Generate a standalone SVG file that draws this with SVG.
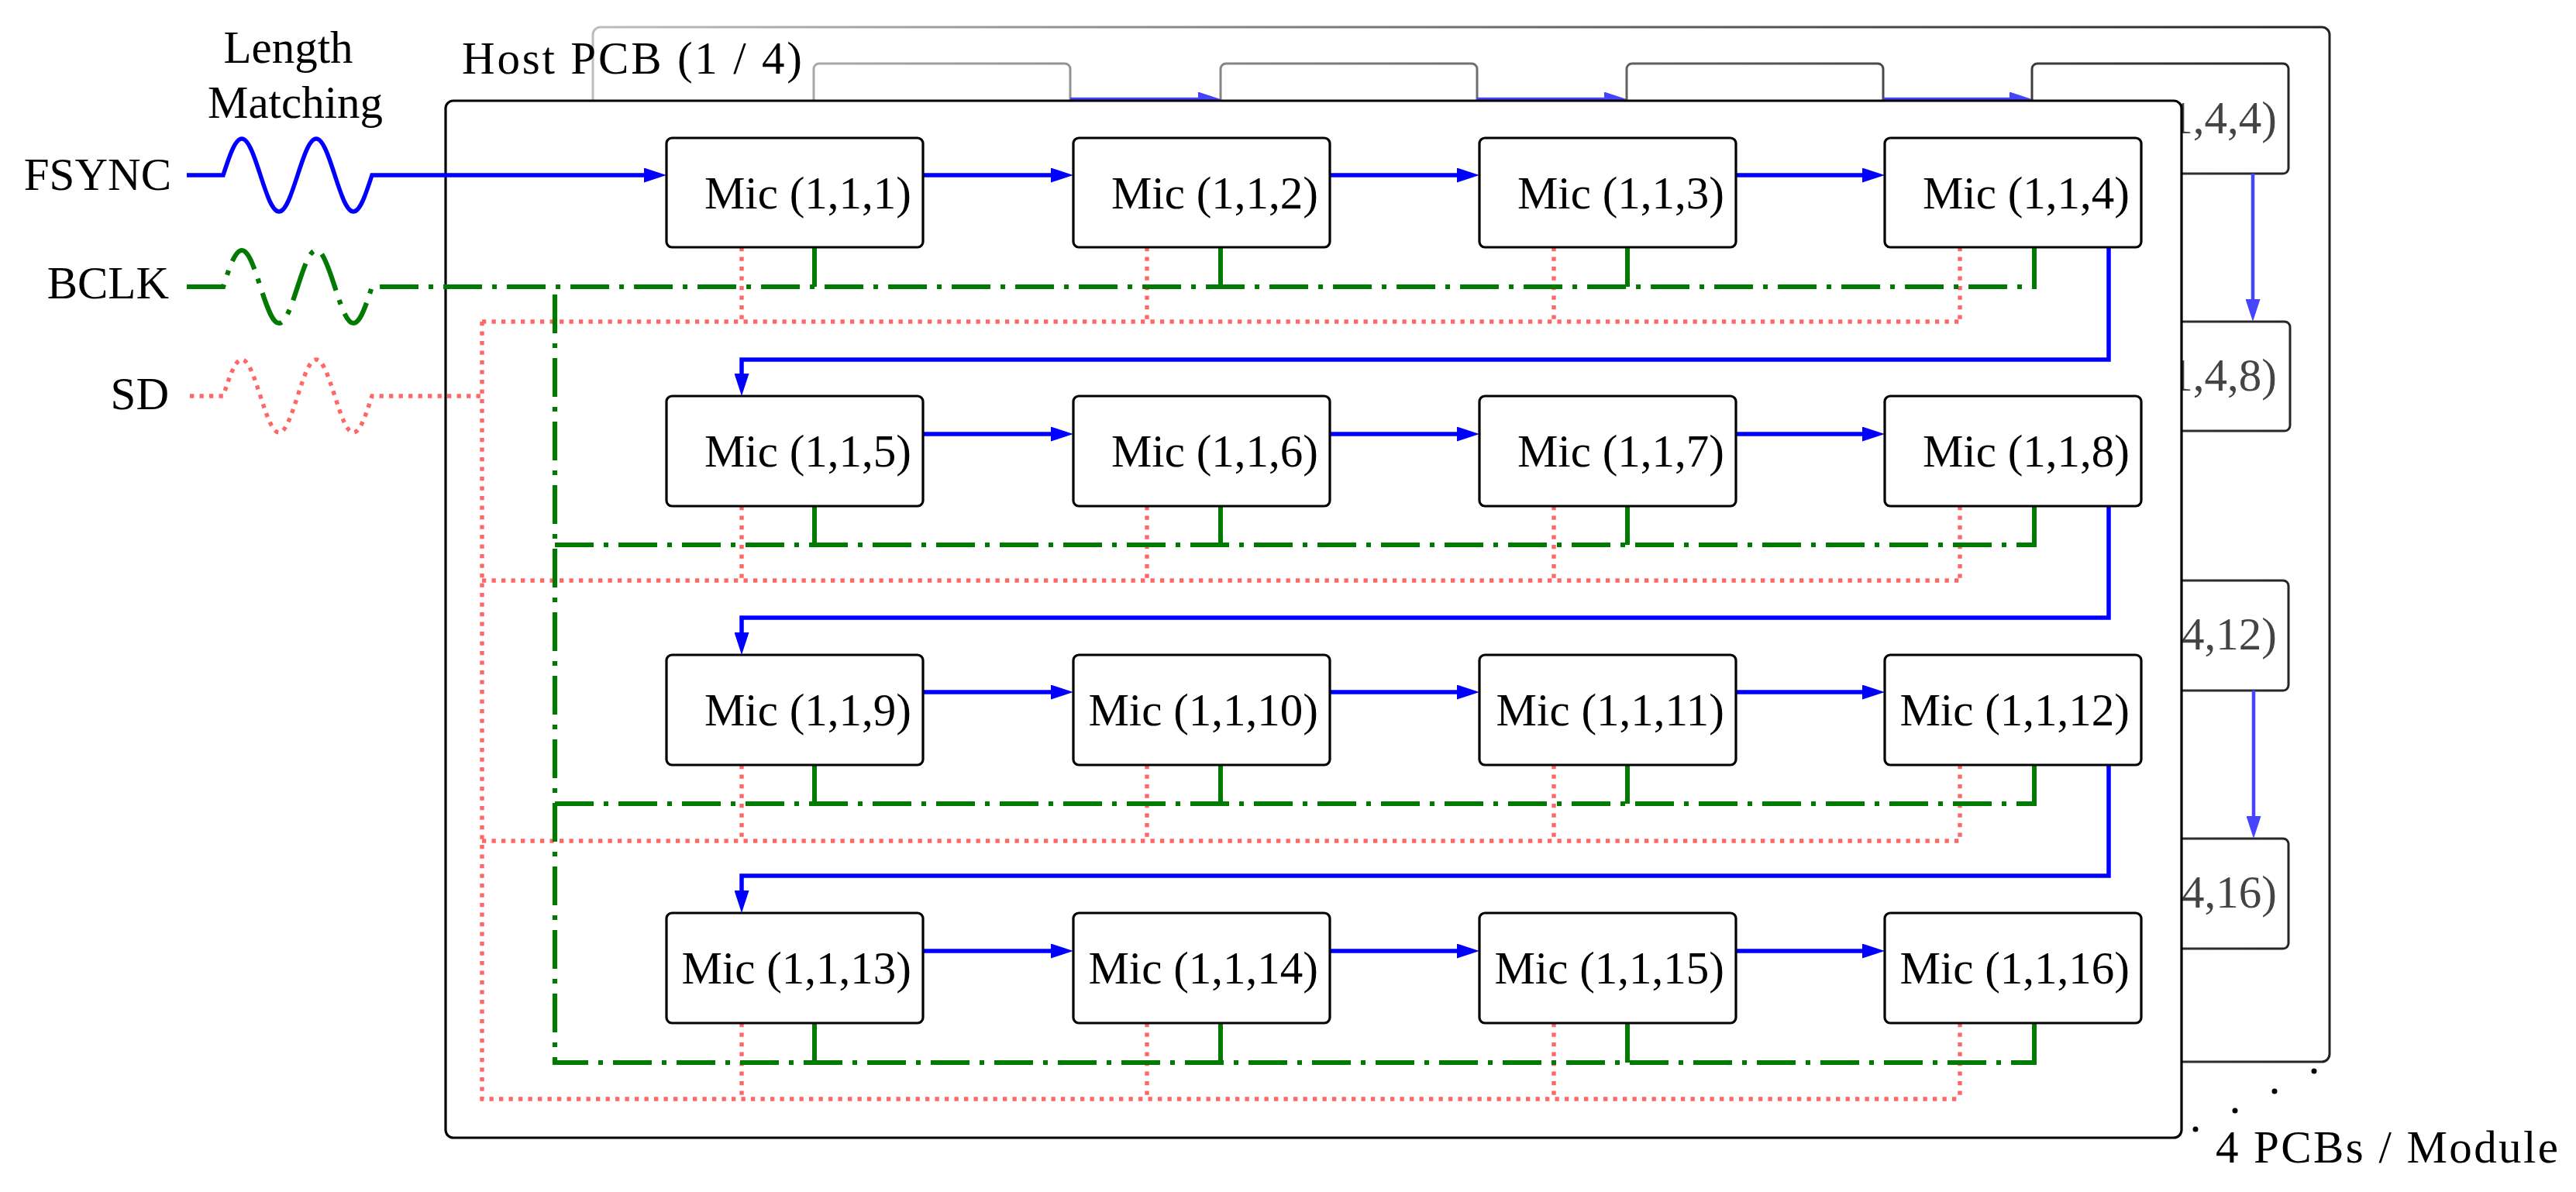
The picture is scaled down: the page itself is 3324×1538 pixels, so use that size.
<svg xmlns="http://www.w3.org/2000/svg" width="3324" height="1538" viewBox="0 0 3324 1538">
<style>
.t{font-family:"Liberation Serif","Times New Roman",serif;font-size:59px;fill:#000}
.mic rect{fill:#fff;stroke:#000;stroke-width:3.2}
.mic text{font-family:"Liberation Serif","Times New Roman",serif;font-size:59px;text-anchor:end;fill:#000}
.bmic rect{fill:#fff;stroke:url(#fade);stroke-width:3}
.bmic text{font-family:"Liberation Serif","Times New Roman",serif;font-size:59px;text-anchor:end;fill:#444}
.fs{fill:none;stroke:#0000ff;stroke-width:5.5}
.fsb{fill:none;stroke:#4545ff;stroke-width:4.5}
.bk{fill:none;stroke:#007a00;stroke-width:6.2;stroke-dasharray:50 13 6 13}
.bks{fill:none;stroke:#007a00;stroke-width:6}
.sd{fill:none;stroke:#ff6666;stroke-width:5.4;stroke-dasharray:5.3 7.2}
</style>
<defs>
<linearGradient id="fade" gradientUnits="userSpaceOnUse" x1="765" y1="0" x2="3006" y2="0">
<stop offset="0" stop-color="#bdbdbd"/>
<stop offset="1" stop-color="#222"/>
</linearGradient>
<marker id="ah" markerUnits="userSpaceOnUse" markerWidth="29" markerHeight="19" viewBox="0 0 29 19" refX="0" refY="9.5" orient="auto">
<path d="M0,0 L29,9.5 L0,19 z" fill="#0000ff"/>
</marker>
<marker id="ahb" markerUnits="userSpaceOnUse" markerWidth="29" markerHeight="19" viewBox="0 0 29 19" refX="0" refY="9.5" orient="auto">
<path d="M0,0 L29,9.5 L0,19 z" fill="#4545ff"/>
</marker>
</defs>
<rect width="3324" height="1538" fill="#fff"/>

<!-- back PCB layer -->
<g id="back-pcb">
<rect x="765" y="35" width="2241" height="1335" rx="10" fill="#fff" stroke="url(#fade)" stroke-width="3"/>
</g>
<g id="bmic-1-4-1" class="bmic"><rect x="1050" y="82" width="331" height="142" rx="7"/></g>
<g id="bmic-1-4-2" class="bmic"><rect x="1575" y="82" width="331" height="142" rx="7"/></g>
<g id="bmic-1-4-3" class="bmic"><rect x="2099" y="82" width="331" height="142" rx="7"/></g>
<g id="bmic-1-4-4" class="bmic"><rect x="2622" y="82" width="331" height="142" rx="7"/><text x="2938" y="172">Mic (1,4,4)</text></g>
<g id="bmic-1-4-8" class="bmic"><rect x="2622" y="415" width="333" height="141" rx="7"/><text x="2938" y="504">Mic (1,4,8)</text></g>
<g id="bmic-1-4-12" class="bmic"><rect x="2622" y="749" width="331" height="142" rx="7"/><text x="2938" y="838">Mic (1,4,12)</text></g>
<g id="bmic-1-4-16" class="bmic"><rect x="2622" y="1082" width="331" height="142" rx="7"/><text x="2938" y="1171">Mic (1,4,16)</text></g>
<g id="back-connectors">
<path class="fsb" d="M1381 128 H1546" marker-end="url(#ahb)"/>
<path class="fsb" d="M1906 128 H2070" marker-end="url(#ahb)"/>
<path class="fsb" d="M2430 128 H2593" marker-end="url(#ahb)"/>
<path class="fsb" d="M2907 224 V386" marker-end="url(#ahb)"/>
<path class="fsb" d="M2908 891 V1053" marker-end="url(#ahb)"/>
</g>

<!-- host PCB -->
<g id="host-pcb">
<rect x="575" y="130" width="2240" height="1338" rx="10" fill="#fff" stroke="#000" stroke-width="3.2"/>
<text class="t" x="596" y="95" textLength="439">Host PCB (1 / 4)</text>
</g>

<!-- labels -->
<g id="label-length-matching">
<text class="t" x="372" y="81" text-anchor="middle">Length</text>
<text class="t" x="381" y="152" text-anchor="middle">Matching</text>
</g>
<g id="label-fsync"><text class="t" x="221" y="245" text-anchor="end">FSYNC</text></g>
<g id="label-bclk"><text class="t" x="218" y="385" text-anchor="end">BCLK</text></g>
<g id="label-sd"><text class="t" x="218" y="528" text-anchor="end">SD</text></g>
<g id="label-module">
<circle cx="2833" cy="1457" r="3.5" fill="#000"/>
<circle cx="2884" cy="1433" r="3.5" fill="#000"/>
<circle cx="2935" cy="1408" r="3.5" fill="#000"/>
<circle cx="2986" cy="1382" r="3.5" fill="#000"/>
<text class="t" x="2859" y="1500" textLength="442">4 PCBs / Module</text>
</g>

<!-- connectors -->
<g id="connectors">
<!-- SD (red dotted) -->
<path class="sd" d="M245 511 H288 c 8.02 -24.68 15.31 -47 24 -47 c 8.69 0 15.98 22.32 24 47 c 8.02 24.68 15.31 47 24 47 c 8.69 0 15.98 -22.32 24 -47 c 8.02 -24.68 15.31 -47 24 -47 c 8.69 0 15.98 22.32 24 47 c 8.02 24.68 15.31 47 24 47 c 8.69 0 15.98 -22.32 24 -47 H622"/>
<path class="sd" d="M622 415 V1418 H2529"/>
<path class="sd" d="M622 415 H2529"/>
<path class="sd" d="M622 749 H2529"/>
<path class="sd" d="M622 1085 H2529"/>
<path class="sd" d="M957 319 V415 M1480 319 V415 M2005 319 V415 M2529 319 V415"/>
<path class="sd" d="M957 653 V749 M1480 653 V749 M2005 653 V749 M2529 653 V749"/>
<path class="sd" d="M957 987 V1085 M1480 987 V1085 M2005 987 V1085 M2529 987 V1085"/>
<path class="sd" d="M957 1320 V1418 M1480 1320 V1418 M2005 1320 V1418 M2529 1320 V1418"/>
<!-- BCLK (green dash-dot) -->
<path class="bk" d="M241 370 H288 c 8.02 -24.68 15.31 -47 24 -47 c 8.69 0 15.98 22.32 24 47 c 8.02 24.68 15.31 47 24 47 c 8.69 0 15.98 -22.32 24 -47 c 8.02 -24.68 15.31 -47 24 -47 c 8.69 0 15.98 22.32 24 47 c 8.02 24.68 15.31 47 24 47 c 8.69 0 15.98 -22.32 24 -47 H2625"/>
<path class="bk" d="M716 380 V1371 H2625"/>
<path class="bk" d="M716 703 H2625"/>
<path class="bk" d="M716 1037 H2625"/>
<path class="bks" d="M1051 319 V370 M1575 319 V370 M2100 319 V370 M2625 319 V373"/>
<path class="bks" d="M1051 653 V703 M1575 653 V703 M2100 653 V703 M2625 653 V706"/>
<path class="bks" d="M1051 987 V1037 M1575 987 V1037 M2100 987 V1037 M2625 987 V1040"/>
<path class="bks" d="M1051 1320 V1371 M1575 1320 V1371 M2100 1320 V1371 M2625 1320 V1374"/>
<!-- FSYNC (blue) -->
<path class="fs" d="M241 226 H288 c 8.02 -24.68 15.31 -47 24 -47 c 8.69 0 15.98 22.32 24 47 c 8.02 24.68 15.31 47 24 47 c 8.69 0 15.98 -22.32 24 -47 c 8.02 -24.68 15.31 -47 24 -47 c 8.69 0 15.98 22.32 24 47 c 8.02 24.68 15.31 47 24 47 c 8.69 0 15.98 -22.32 24 -47 H831" marker-end="url(#ah)"/>
<path class="fs" d="M1191 226 H1356" marker-end="url(#ah)"/>
<path class="fs" d="M1716 226 H1880" marker-end="url(#ah)"/>
<path class="fs" d="M2240 226 H2403" marker-end="url(#ah)"/>
<path class="fs" d="M2721 319 V464 H957 V482" marker-end="url(#ah)"/>
<path class="fs" d="M1191 560 H1356" marker-end="url(#ah)"/>
<path class="fs" d="M1716 560 H1880" marker-end="url(#ah)"/>
<path class="fs" d="M2240 560 H2403" marker-end="url(#ah)"/>
<path class="fs" d="M2721 653 V797 H957 V816" marker-end="url(#ah)"/>
<path class="fs" d="M1191 893 H1356" marker-end="url(#ah)"/>
<path class="fs" d="M1716 893 H1880" marker-end="url(#ah)"/>
<path class="fs" d="M2240 893 H2403" marker-end="url(#ah)"/>
<path class="fs" d="M2721 987 V1130 H957 V1149" marker-end="url(#ah)"/>
<path class="fs" d="M1191 1227 H1356" marker-end="url(#ah)"/>
<path class="fs" d="M1716 1227 H1880" marker-end="url(#ah)"/>
<path class="fs" d="M2240 1227 H2403" marker-end="url(#ah)"/>
</g>

<!-- front mics -->
<g id="mic-1-1-1" class="mic"><rect x="860" y="178" width="331" height="141" rx="7"/><text x="1176" y="269">Mic (1,1,1)</text></g>
<g id="mic-1-1-2" class="mic"><rect x="1385" y="178" width="331" height="141" rx="7"/><text x="1701" y="269">Mic (1,1,2)</text></g>
<g id="mic-1-1-3" class="mic"><rect x="1909" y="178" width="331" height="141" rx="7"/><text x="2225" y="269">Mic (1,1,3)</text></g>
<g id="mic-1-1-4" class="mic"><rect x="2432" y="178" width="331" height="141" rx="7"/><text x="2748" y="269">Mic (1,1,4)</text></g>
<g id="mic-1-1-5" class="mic"><rect x="860" y="511" width="331" height="142" rx="7"/><text x="1176" y="602">Mic (1,1,5)</text></g>
<g id="mic-1-1-6" class="mic"><rect x="1385" y="511" width="331" height="142" rx="7"/><text x="1701" y="602">Mic (1,1,6)</text></g>
<g id="mic-1-1-7" class="mic"><rect x="1909" y="511" width="331" height="142" rx="7"/><text x="2225" y="602">Mic (1,1,7)</text></g>
<g id="mic-1-1-8" class="mic"><rect x="2432" y="511" width="331" height="142" rx="7"/><text x="2748" y="602">Mic (1,1,8)</text></g>
<g id="mic-1-1-9" class="mic"><rect x="860" y="845" width="331" height="142" rx="7"/><text x="1176" y="936">Mic (1,1,9)</text></g>
<g id="mic-1-1-10" class="mic"><rect x="1385" y="845" width="331" height="142" rx="7"/><text x="1701" y="936">Mic (1,1,10)</text></g>
<g id="mic-1-1-11" class="mic"><rect x="1909" y="845" width="331" height="142" rx="7"/><text x="2225" y="936">Mic (1,1,11)</text></g>
<g id="mic-1-1-12" class="mic"><rect x="2432" y="845" width="331" height="142" rx="7"/><text x="2748" y="936">Mic (1,1,12)</text></g>
<g id="mic-1-1-13" class="mic"><rect x="860" y="1178" width="331" height="142" rx="7"/><text x="1176" y="1269">Mic (1,1,13)</text></g>
<g id="mic-1-1-14" class="mic"><rect x="1385" y="1178" width="331" height="142" rx="7"/><text x="1701" y="1269">Mic (1,1,14)</text></g>
<g id="mic-1-1-15" class="mic"><rect x="1909" y="1178" width="331" height="142" rx="7"/><text x="2225" y="1269">Mic (1,1,15)</text></g>
<g id="mic-1-1-16" class="mic"><rect x="2432" y="1178" width="331" height="142" rx="7"/><text x="2748" y="1269">Mic (1,1,16)</text></g>
</svg>
